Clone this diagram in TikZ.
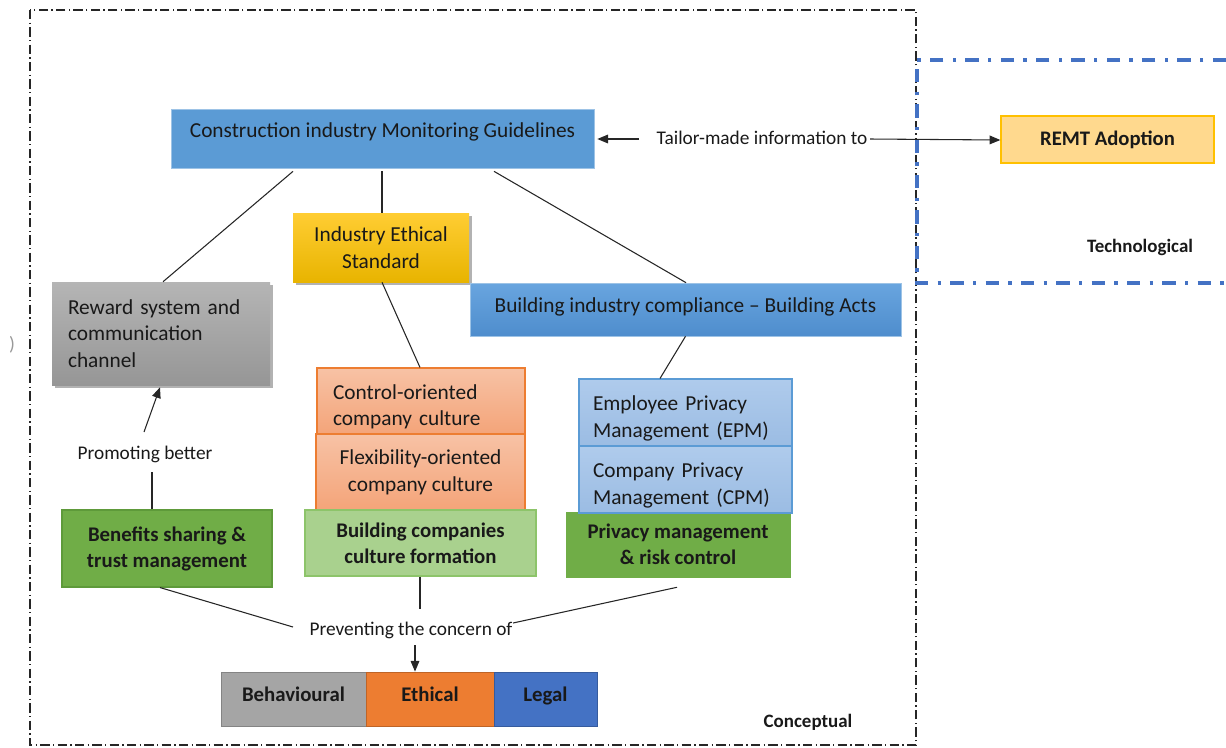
\documentclass[tikz,border=0pt]{standalone}
\usepackage{fontspec}
\setmainfont{Carlito}
\usetikzlibrary{calc,shadows,arrows.meta}
\definecolor{topblue}{HTML}{5B9BD5}
\definecolor{topblueedge}{HTML}{9DC3E6}
\definecolor{actstop}{HTML}{69A5DF}
\definecolor{actsbot}{HTML}{4E8DCD}
\definecolor{goldtop}{HTML}{FFCD33}
\definecolor{goldbot}{HTML}{E8B400}
\definecolor{graytop}{HTML}{B5B5B5}
\definecolor{graybot}{HTML}{969696}
\definecolor{salmontop}{HTML}{F7C2A5}
\definecolor{salmonbot}{HTML}{F4A479}
\definecolor{salmonedge}{HTML}{ED7D31}
\definecolor{lgreen}{HTML}{A9D18E}
\definecolor{lgreenedge}{HTML}{8DC46A}
\definecolor{dgreen}{HTML}{70AD47}
\definecolor{dgreenedge}{HTML}{5E9A3A}
\definecolor{epmtop}{HTML}{AFCBEC}
\definecolor{epmbot}{HTML}{9BBCE3}
\definecolor{remtfill}{HTML}{FFD98E}
\definecolor{remtedge}{HTML}{FFC000}
\definecolor{behav}{HTML}{A5A5A5}
\definecolor{ethic}{HTML}{ED7D31}
\definecolor{legalc}{HTML}{4472C4}
\definecolor{blueframe}{HTML}{4472C4}
\newcommand\myfs{\fontsize{14.5}{19.5}\selectfont}
\newcommand\myfsbox{\fontsize{16}{20}\selectfont}
\newcommand\myfsb{\fontsize{15.6}{19.5}\selectfont\bfseries}
\newcommand\myfss{\fontsize{14.2}{16}\selectfont\bfseries}
\newcommand\mystrut{\rule{0pt}{20pt}}
\tikzset{
  box/.style args={#1/#2}{minimum width=#1, minimum height=#2, inner sep=0pt, align=center, font=\myfsbox},
  shad/.style={drop shadow={shadow xshift=2pt,shadow yshift=-2pt,opacity=0.3,fill=black}},
  conn/.style={draw=black!85, line width=0.8pt},
  arr/.style={conn, -{Triangle[length=8pt,width=6.5pt]}},
  frame/.style={draw=black!85, line width=0.8pt, dash pattern=on 7pt off 2.5pt on 1pt off 2.5pt},
  techframe/.style={draw=blueframe, line width=3pt, dash pattern=on 10pt off 7pt on 2.5pt off 7pt},
}
\begin{document}
\begin{tikzpicture}[x=0.75pt,y=-0.75pt,
  every node/.style={inner sep=0pt, font=\myfs, text=black!90}]
\useasboundingbox (0,0) rectangle (1226,747);
% frames
\draw[frame] (30,10) rectangle (916,745);
\draw[techframe] (1226,60) -- (917,60) -- (917,283) -- (1226,283);
\node[text=black!40] (paren) at (12,345) {)};

% boxes
\node[box=317.25pt/44.25pt, fill=topblue, draw=topblueedge, line width=0.5pt] (top) at (382.5,138.5)
  {\raisebox{12.8pt}{Construction industry Monitoring Guidelines}};
\node[box=159.75pt/35.25pt, fill=remtfill, draw=remtedge, line width=1pt, font=\fontsize{15.5}{19}\selectfont\bfseries] (remt) at (1107.5,139.5) {REMT Adoption};
\node[box=132pt/51.75pt, top color=goldtop, bottom color=goldbot, shad] (ethical) at (381,247.5) {Industry Ethical\\Standard};
\node[box=163.5pt/77.25pt, top color=graytop, bottom color=graybot, shad, text width=139.5pt, align=left] (reward) at (161,333.5)
  {Reward system and\\communication\\channel};
\node[box=323.25pt/39.75pt, top color=actstop, bottom color=actsbot, draw=topblueedge, line width=0.5pt] (acts) at (685.5,309.5)
  {\raisebox{6.8pt}{Building industry compliance -- Building Acts}};
\node[box=156pt/49.5pt, top color=salmontop, bottom color=salmonbot, draw=salmonedge, line width=0.8pt, text width=132pt, align=left] (control) at (421,401)
  {\mystrut Control-oriented\\company culture};
\node[box=156.75pt/57pt, top color=salmontop, bottom color=salmonbot, draw=salmonedge, line width=0.8pt] (flex) at (420.5,472)
  {Flexibility-oriented\\company culture};
\node[box=168pt/48.75pt, fill=dgreen, draw=dgreen, font=\myfsb] (privacy) at (678,544.5)
  {Privacy management\\\& risk control};
\node[box=159.75pt/50.25pt, top color=epmtop, bottom color=epmbot, draw=topblue, line width=0.8pt, text width=138.75pt, align=left] (epm) at (685.5,412.5)
  {\mystrut Employee Privacy\\Management (EPM)};
\node[box=159.75pt/50.25pt, top color=epmtop, bottom color=epmbot, draw=topblue, line width=0.8pt, text width=138.75pt, align=left] (cpm) at (685.5,479.5)
  {\mystrut Company Privacy\\Management (CPM)};
\node[box=173.25pt/49.5pt, fill=lgreen, draw=lgreenedge, line width=0.8pt, font=\myfsb] (bcomp) at (420.5,543)
  {Building companies\\culture formation};
\node[box=157.5pt/57.75pt, fill=dgreen, draw=dgreenedge, line width=0.8pt, font=\myfsb] (benefits) at (167,548.5)
  {Benefits sharing \&\\trust management};
\node[box=108.75pt/40.5pt, fill=behav, draw=behav!80!black, line width=0.6pt, font=\myfsb] (beh) at (293.5,699) {\raisebox{7pt}{Behavioural}};
\node[box=96pt/40.5pt, fill=ethic, draw=ethic!80!black, line width=0.6pt, font=\myfsb] (eth) at (430,699) {\raisebox{7pt}{Ethical}};
\node[box=77.25pt/40.5pt, fill=legalc, draw=legalc!80!black, line width=0.6pt, font=\myfsb] (legal) at (545.5,699) {\raisebox{7pt}{Legal}};

% text labels
\node (tailor) at (762,138) {Tailor-made information to};
\node (promoting) at (145,454) {Promoting better};
\node (preventing) at (411,630) {Preventing the concern of};
\node[font=\myfss] (techno) at (1140,247) {Technological};
\node[font=\myfss] (concept) at (808,722) {Conceptual};

% connectors
\draw[arr] ($(tailor.center)+(-123,1)$) -- ($(top.east)+(3,0.5)$);
\draw[arr] ($(tailor.center)+(108,1)$) -- ($(remt.west)+(0,0.5)$);
\draw[conn] ($(top.south)+(-89.5,3)$) -- ($(reward.north)+(2,0)$);
\draw[conn] ($(top.south)+(-0.5,3)$) -- ($(ethical.north)+(1,0)$);
\draw[conn] ($(top.south)+(111.5,3)$) -- ($(acts.north)+(0.5,0)$);
\draw[conn] ($(ethical.south)+(1,0)$) -- ($(control.north)+(-1,0)$);
\draw[conn] (acts.south) -- ($(epm.north)+(-25.5,0)$);
\draw[conn] ($(benefits.north)+(-15,0)$) -- ($(promoting.center)+(7,18)$);
\draw[arr] ($(promoting.center)+(-1,-22)$) -- ($(reward.south)+(-1,2)$);
\draw[conn] ($(benefits.south)+(-7,0)$) -- ($(preventing.center)+(-118,-3)$);
\draw[conn] ($(bcomp.south)+(-0.5,0)$) -- ($(preventing.center)+(9,-21)$);
\draw[conn] ($(privacy.south)+(-1,10)$) -- ($(preventing.center)+(102,-7)$);
\draw[arr] ($(preventing.center)+(4,15)$) -- ($(eth.north)+(-15,0)$);
\end{tikzpicture}
\end{document}
